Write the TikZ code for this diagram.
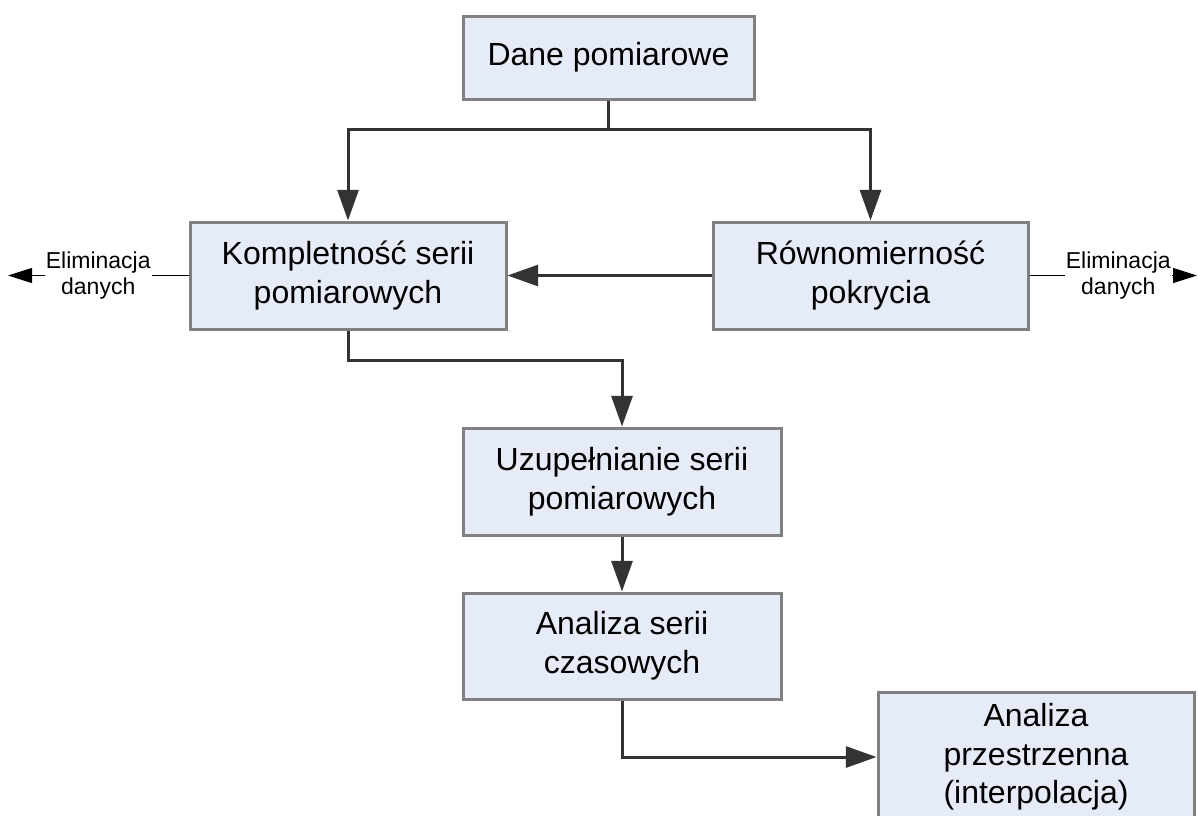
\documentclass[tikz,border=0pt]{standalone}
\usepackage{fontspec}
\setmainfont{Liberation Sans}
\usetikzlibrary{arrows.meta}
\definecolor{boxfill}{HTML}{E6ECF7}
\definecolor{boxline}{HTML}{808080}
\definecolor{connline}{HTML}{333333}

\begin{document}
\begin{tikzpicture}[x=0.75pt,y=-0.75pt,
  stage/.style={draw=boxline, line width=2.25pt, fill=boxfill, align=center,
    inner sep=0pt, text=black, font=\fontsize{24}{29}\selectfont},
  flowline/.style={draw=connline, line width=2.25pt},
  flow/.style={flowline, -{Triangle[length=23pt,width=15.75pt]}},
  dropline/.style={draw=black, line width=0.75pt, -{Triangle[length=18pt,width=11.25pt]}},
  droplabel/.style={fill=white, align=center, inner xsep=1pt, inner ysep=0pt,
    text=black, font=\fontsize{17.25}{19.5}\selectfont}]

\useasboundingbox (0,0) rectangle (1198,815);
\clip (0,0) rectangle (1198,815);

% processing stages
\node[stage, minimum width=218.25pt, minimum height=62.25pt] (dane) at (608.5,57.5) {Dane pomiarowe};
\node[stage, minimum width=237pt, minimum height=80.25pt] (komp) at (348,275.5) {Kompletność serii\\pomiarowych};
\node[stage, minimum width=236.25pt, minimum height=80.25pt] (rown) at (870.5,275.5) {Równomierność\\pokrycia};
\node[stage, minimum width=238.5pt, minimum height=80.25pt] (uzup) at (622,481.5) {Uzupełnianie serii\\pomiarowych};
\node[stage, minimum width=238.5pt, minimum height=79.5pt] (anal) at (622,646) {Analiza serii\\czasowych};
\node[stage, minimum width=237pt, minimum height=97.5pt] (przes) at (1036,757) {Analiza\\przestrzenna\\(interpolacja)};

% junction points of the connectors
\coordinate (split) at (608.5,129);
\coordinate (bend) at (622,360);
\coordinate (outL) at (8,275.5);
\coordinate (outR) at (1197,275.5);

% main flow
\draw[flowline] (dane.south) -- (split);
\draw[flow] (split) -| (komp.north);
\draw[flow] (split) -| (rown.north);
\draw[flow] (rown.west) -- (komp.east);
\draw[flow] (komp.south) |- (bend) -- (uzup.north);
\draw[flow] (uzup.south) -- (anal.north);
\draw[flow] (anal.south) |- (przes.west);

% rejected data
\draw[dropline] (komp.west) -- (outL) node[droplabel, pos=0.5] (elimL) {Eliminacja\\danych};
\draw[dropline] (rown.east) -- (outR) node[droplabel, pos=0.53] (elimR) {Eliminacja\\danych};
\end{tikzpicture}
\end{document}
